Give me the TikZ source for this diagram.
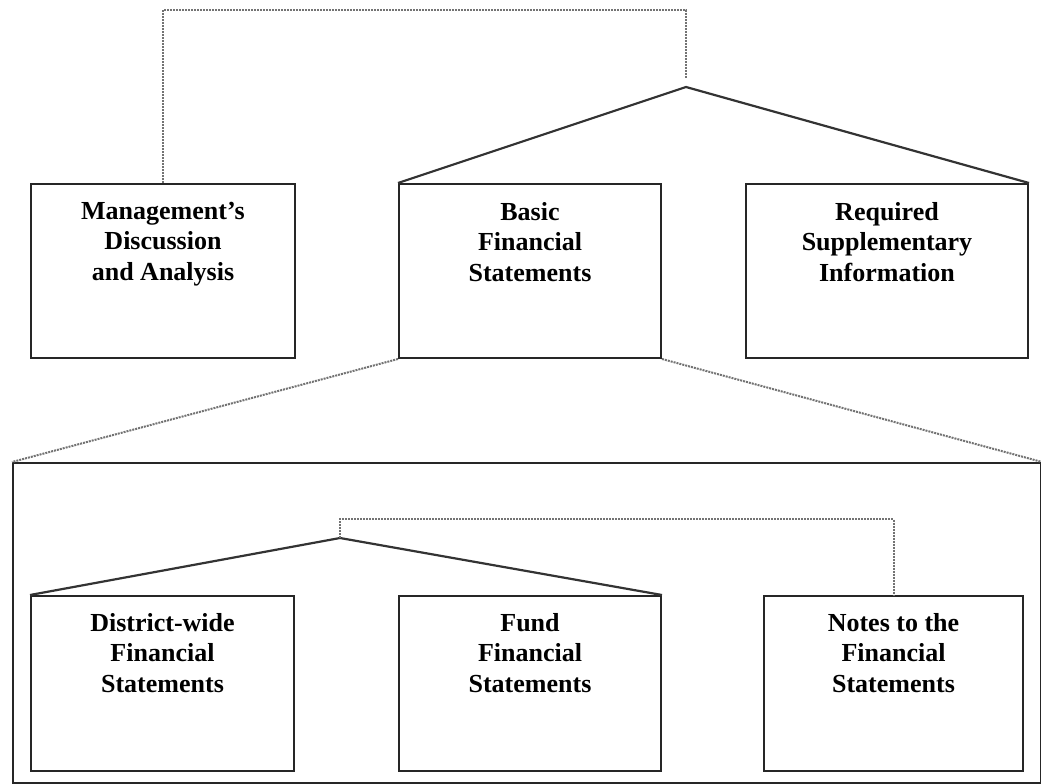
\documentclass[tikz,border=0pt]{standalone}
\usepackage{fontspec}
\setmainfont{Liberation Serif}
\usetikzlibrary{calc, positioning}

\begin{document}
\begin{tikzpicture}[x=1pt,y=-1pt,
	fsbox/.style={draw, line width=2pt, draw=black!85, anchor=north west, inner sep=0pt, minimum height=174pt},
	fslabel/.style={font=\fontsize{26}{30.5}\selectfont\bfseries, align=center, inner sep=0pt},
	solidline/.style={line width=2.2pt, draw=black!80},
	dotline/.style={densely dotted, line width=2pt, draw=black!55}]
	\useasboundingbox (0,0) rectangle (1041,784);

	% top row
	\node[fsbox, minimum width=264pt] (mda) at (30,183) {};
	\node[fsbox, minimum width=262pt] (bfs) at (398,183) {};
	\node[fsbox, minimum width=282pt] (rsi) at (745,183) {};
	\node[fslabel, below=19pt of mda.north] {Management's\\Discussion\\and Analysis};
	\node[fslabel, below=19pt of bfs.north] {Basic\\Financial\\Statements};
	\node[fslabel, below=19pt of rsi.north] {Required\\Supplementary\\Information};

	\coordinate (top) at (686,87);
	\coordinate (bar) at (686,10);
	\draw[solidline] (bfs.north west) -- (top) -- (rsi.north east);
	\draw[dotline] (mda.north) |- (bar) -- ($(top)+(0,-9)$);

	% basic financial statements, expanded
	\node[fsbox, minimum width=1028pt, minimum height=320pt] (stmts) at (12,462) {};
	\draw[dotline] (bfs.south west) -- (stmts.north west);
	\draw[dotline] (bfs.south east) -- (stmts.north east);

	\node[fsbox, minimum width=263pt, minimum height=175pt] (dist) at (30,595) {};
	\node[fsbox, minimum width=262pt, minimum height=175pt] (fund) at (398,595) {};
	\node[fsbox, minimum width=259pt, minimum height=175pt] (notes) at (763,595) {};
	\node[fslabel, below=18pt of dist.north] {District-wide\\Financial\\Statements};
	\node[fslabel, below=18pt of fund.north] {Fund\\Financial\\Statements};
	\node[fslabel, below=18pt of notes.north] {Notes to the\\Financial\\Statements};

	\coordinate (inner) at (340,538);
	\coordinate (innerbar) at (340,519);
	\draw[solidline] (dist.north west) -- (inner) -- (fund.north east);
	\draw[dotline] (inner) -- (innerbar) -| (notes.north);
\end{tikzpicture}
\end{document}
